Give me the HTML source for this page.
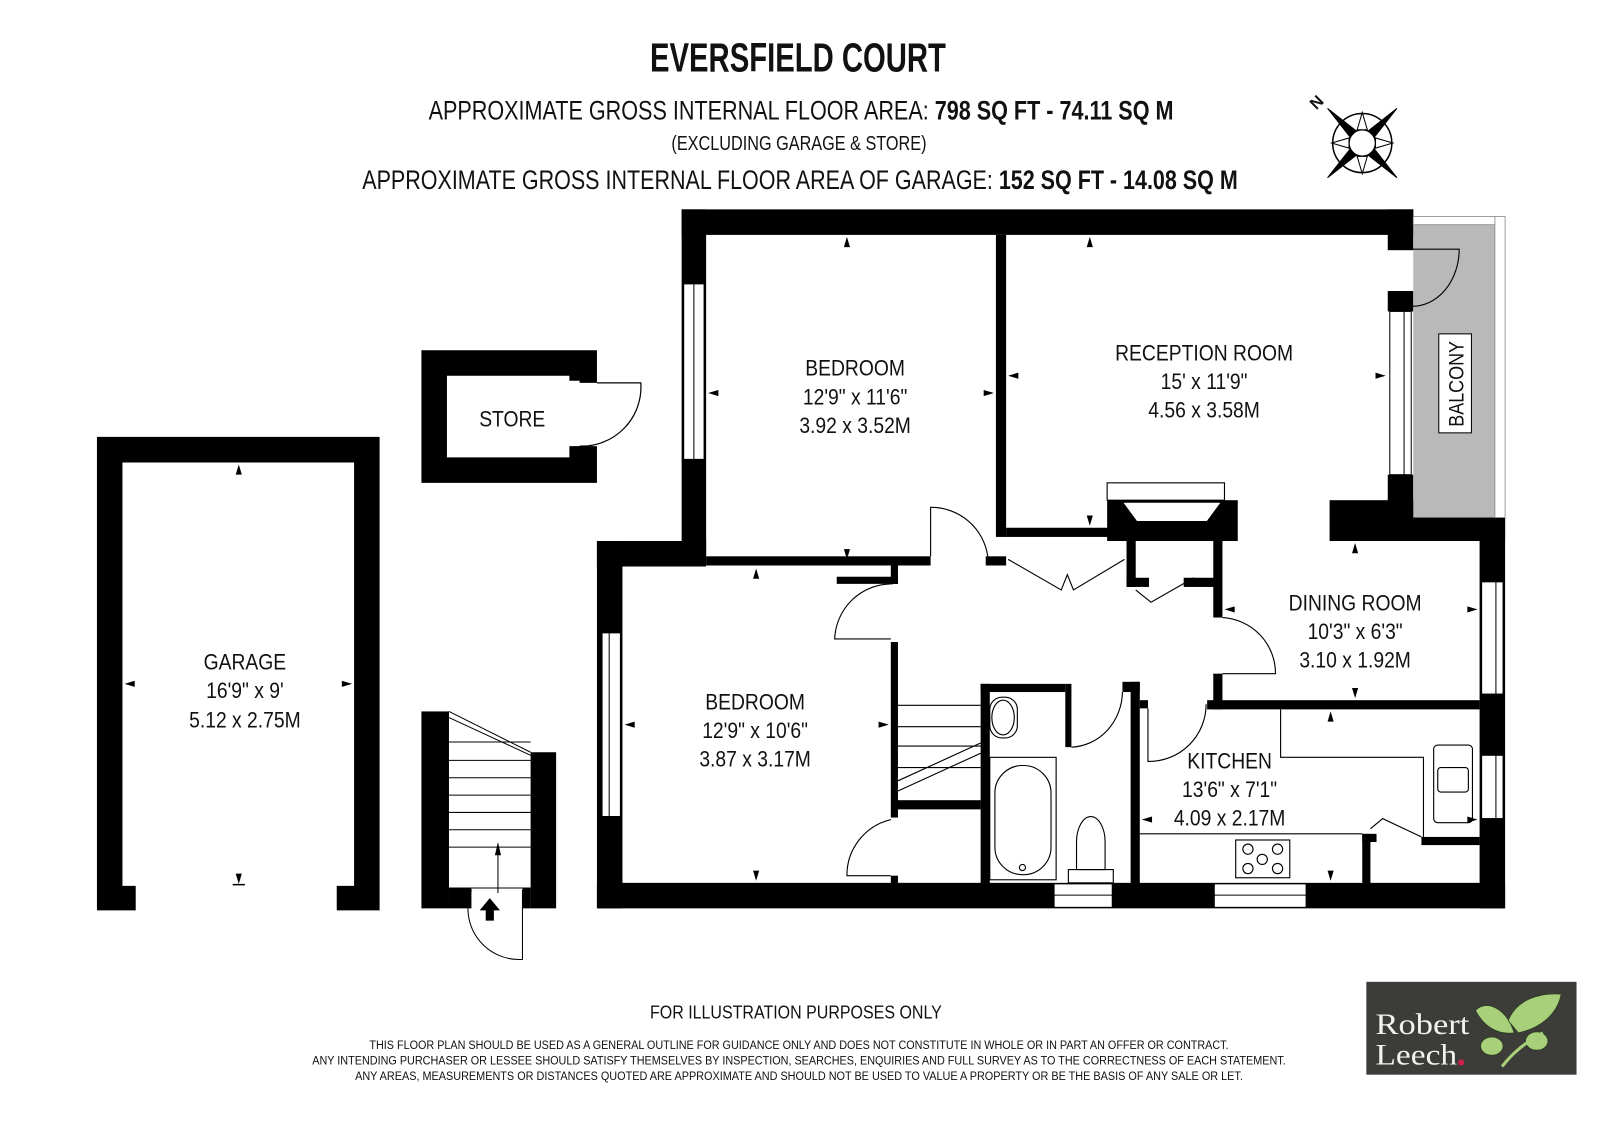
<!DOCTYPE html>
<html><head><meta charset="utf-8"><style>
html,body{margin:0;padding:0;background:#fff;}
svg{display:block;}
text{font-family:"Liberation Sans Narrow","Liberation Sans",sans-serif;fill:#111;}
</style></head><body>
<svg width="1600" height="1131" viewBox="0 0 1568 1108" xmlns="http://www.w3.org/2000/svg">
<!-- Header -->
<text x="782" y="70" text-anchor="middle" font-size="40" font-weight="bold" textLength="290" lengthAdjust="spacingAndGlyphs">EVERSFIELD COURT</text>
<text x="420" y="117" font-size="26" textLength="730" lengthAdjust="spacingAndGlyphs">APPROXIMATE GROSS INTERNAL FLOOR AREA:  <tspan font-weight="bold">798 SQ FT  -  74.11 SQ M</tspan></text>
<text x="783" y="147" text-anchor="middle" font-size="20" textLength="250" lengthAdjust="spacingAndGlyphs">(EXCLUDING GARAGE &amp; STORE)</text>
<text x="355" y="185" font-size="26" textLength="858" lengthAdjust="spacingAndGlyphs">APPROXIMATE GROSS INTERNAL FLOOR AREA OF GARAGE:  <tspan font-weight="bold">152 SQ FT  -  14.08 SQ M</tspan></text>
<!-- Compass -->
<g transform="translate(1335,140)">
<circle r="29" fill="none" stroke="#000" stroke-width="1.5"/>
<circle r="13" fill="#fff" stroke="#000" stroke-width="1.5"/>
<g fill="#000" stroke="#000" stroke-width="1">
<polygon points="-34,-34 -6,-12 -12,-6"/><polygon points="34,34 6,12 12,6"/>
<polygon points="34,-34 6,-12 12,-6"/><polygon points="-34,34 -6,12 -12,6"/>
<polygon points="0,-30 -5,-13 5,-13" fill="#fff"/><polygon points="0,30 -5,13 5,13" fill="#fff"/>
<polygon points="-30,0 -13,-5 -13,5" fill="#fff"/><polygon points="30,0 13,-5 13,5" fill="#fff"/>
</g>
<text x="-45" y="-32" font-size="16" font-weight="bold" transform="rotate(-45 -45 -32)">N</text>
</g>

<!-- Garage -->
<path d="M95,428 H372 V892 H330 V868 H347 V453 H120 V868 H133 V892 H95 Z" fill="#000"/>
<g transform="translate(240,0) scale(0.86,1)" font-size="22" text-anchor="middle">
<text x="0" y="656">GARAGE</text>
<text x="0" y="684">16'9" x 9'</text>
<text x="0" y="713">5.12 x 2.75M</text>
</g>

<!-- Store -->
<path d="M413,343 H585 V375 H568 V373 H558 V368 H438 V448 H558 V437 H585 V473 H413 Z" fill="#000"/>
<path d="M585,375 H628 A58,58 0 0 1 568,437" fill="none" stroke="#000" stroke-width="1.2"/>
<text x="0" y="418" text-anchor="middle" font-size="22" transform="translate(502,0) scale(0.86,1)">STORE</text>

<!-- External stairs -->
<rect x="413" y="697" width="27" height="193" fill="#000"/>
<rect x="520" y="737" width="25" height="153" fill="#000"/>
<rect x="440" y="870" width="22" height="20" fill="#000"/>
<rect x="512" y="870" width="8" height="20" fill="#000"/>
<g stroke="#000" stroke-width="1" fill="none">
<line x1="440" y1="697" x2="520" y2="737"/><line x1="440" y1="703" x2="520" y2="740"/>
<line x1="440" y1="727" x2="520" y2="727"/><line x1="440" y1="745" x2="520" y2="745"/>
<line x1="440" y1="762" x2="520" y2="762"/><line x1="440" y1="779" x2="520" y2="779"/>
<line x1="440" y1="796" x2="520" y2="796"/><line x1="440" y1="813" x2="520" y2="813"/>
<line x1="440" y1="830" x2="520" y2="830"/><line x1="440" y1="870" x2="520" y2="870"/>
<line x1="488" y1="830" x2="488" y2="875"/>
<path d="M462,872 A50,50 0 0 0 512,940 V872"/>
</g>
<polygon points="488,825 485,838 491,838" fill="#000"/>
<polygon points="480,880 470,892 476,892 476,902 484,902 484,892 490,892" fill="#000"/>

<!-- Main building outer walls -->
<g fill="#000">
<rect x="668" y="205" width="717" height="25"/>
<rect x="668" y="205" width="24" height="345"/>
<rect x="585" y="530" width="107" height="25"/>
<rect x="585" y="530" width="25" height="360"/>
<rect x="585" y="865" width="890" height="25"/>
<rect x="1360" y="205" width="25" height="40"/>
<rect x="1360" y="285" width="25" height="20"/>
<rect x="1360" y="465" width="25" height="42"/>
<rect x="1303" y="490" width="172" height="40"/>
<rect x="1450" y="505" width="25" height="385"/>
<rect x="976" y="230" width="10" height="296"/>
<rect x="692" y="545" width="220" height="9"/>
<rect x="966" y="545" width="20" height="9"/>
<rect x="986" y="517" width="100" height="9"/>
<rect x="1085" y="490" width="128" height="40"/>
<rect x="1104" y="530" width="9" height="45"/>
<rect x="1104" y="566" width="22" height="9"/>
<rect x="1160" y="566" width="30" height="9"/>
<rect x="1189" y="530" width="9" height="75"/>
<rect x="1189" y="660" width="9" height="35"/>
<rect x="1183" y="686" width="267" height="9"/>
<rect x="873" y="554" width="7" height="18"/>
<rect x="820" y="565" width="60" height="7"/>
<rect x="873" y="629" width="7" height="172"/>
<rect x="873" y="858" width="7" height="10"/>
<rect x="879" y="784" width="82" height="9"/>
<rect x="961" y="670" width="9" height="197"/>
<rect x="961" y="670" width="83" height="8"/>
<rect x="1044" y="670" width="6" height="62"/>
<rect x="1100" y="668" width="17" height="10"/>
<rect x="1108" y="668" width="9" height="199"/>
<rect x="1117" y="686" width="8" height="8"/>
<rect x="1335" y="817" width="8" height="50"/>
<rect x="1335" y="817" width="14" height="8"/>
<rect x="1393" y="820" width="57" height="8"/>
</g>
<!-- windows -->
<g fill="#fff" stroke="#000" stroke-width="1">
<rect x="670" y="278" width="20" height="172"/><line x1="680" y1="278" x2="680" y2="450"/>
<rect x="590" y="620" width="18" height="180"/><line x1="597" y1="620" x2="597" y2="800"/>
<rect x="1362" y="305" width="21" height="160"/><line x1="1376" y1="305" x2="1376" y2="465"/>
<rect x="1452" y="570" width="21" height="110"/><line x1="1466" y1="570" x2="1466" y2="680"/>
<rect x="1452" y="740" width="21" height="62"/><line x1="1466" y1="740" x2="1466" y2="802"/>
<rect x="1033" y="866" width="57" height="23"/><line x1="1033" y1="877" x2="1090" y2="877"/>
<rect x="1190" y="866" width="90" height="23"/><line x1="1190" y1="877" x2="1280" y2="877"/>
</g>
<!-- balcony -->
<rect x="1385" y="220" width="80" height="287" fill="#b9b9b9"/>
<rect x="1385" y="212" width="80" height="8" fill="#fff" stroke="#888" stroke-width="0.8"/>
<rect x="1465" y="212" width="10" height="295" fill="#fff" stroke="#888" stroke-width="0.8"/>
<rect x="1410" y="327" width="32" height="97" fill="#fff" stroke="#000" stroke-width="1"/>
<text x="0" y="0" font-size="21" text-anchor="middle" textLength="84" lengthAdjust="spacingAndGlyphs" transform="translate(1434,376) rotate(-90)">BALCONY</text>
<!-- doors & fixtures -->
<g fill="none" stroke="#000" stroke-width="1.1">
<path d="M1383,244 H1430 A46,56 0 0 1 1383,300"/>
<path d="M912,545 V497 A56,56 0 0 1 968,545"/>
<path d="M873,572 H875 A56,56 0 0 0 818,626 H873"/>
<path d="M873,858 H830 A56,56 0 0 1 873,803"/>
<path d="M988,548 L1040,578 L1046,563 L1052,578 L1102,548"/>
<path d="M1113,578 L1128,590 L1170,566"/>
<path d="M1198,605 A55,55 0 0 1 1250,660 H1198"/>
<path d="M1050,732 A52,55 0 0 0 1100,678"/>
<path d="M1125,694 V746 A56,56 0 0 0 1182,690"/>
<path d="M1343,812 L1355,802 L1393,820"/>
<rect x="1085" y="473" width="115" height="17"/>
<polygon points="1100,492 1197,492 1183,511 1114,511" fill="#fff"/>
<line x1="880" y1="691" x2="961" y2="691"/><line x1="880" y1="712" x2="961" y2="712"/>
<line x1="880" y1="731" x2="961" y2="731"/><line x1="880" y1="752" x2="961" y2="752"/>
<line x1="880" y1="765" x2="961" y2="728"/><line x1="880" y1="775" x2="961" y2="738"/>
<rect x="970" y="683" width="27" height="40" rx="12"/>
<ellipse cx="983" cy="703" rx="11" ry="17"/>
<rect x="970" y="742" width="65" height="120"/>
<rect x="975" y="750" width="55" height="107" rx="27"/>
<circle cx="1002" cy="850" r="3"/>
<rect x="1047" y="852" width="44" height="13"/>
<path d="M1055,852 V825 A14,25 0 0 1 1083,825 V852 Z"/>
<path d="M1255,695 V742 H1395 V820"/>
<line x1="1117" y1="817" x2="1335" y2="817"/>
<rect x="1211" y="823" width="53" height="37"/>
<circle cx="1223" cy="832" r="5"/><circle cx="1252" cy="832" r="5"/>
<circle cx="1223" cy="851" r="5"/><circle cx="1252" cy="851" r="5"/><circle cx="1237" cy="842" r="5"/>
<rect x="1405" y="730" width="38" height="76" rx="4"/>
<rect x="1409" y="752" width="30" height="24" rx="3"/>
</g>
<!-- dimension markers -->
<g fill="#000">
<polygon points="830,232 827,242 833,242"/><polygon points="830,548 827,538 833,538"/>
<polygon points="694,385 704,382 704,388"/><polygon points="974,385 964,382 964,388"/>
<polygon points="1068,232 1065,242 1071,242"/><polygon points="1068,515 1065,505 1071,505"/>
<polygon points="988,368 998,365 998,371"/><polygon points="1358,368 1348,365 1348,371"/>
<polygon points="1328,532 1325,542 1331,542"/><polygon points="1328,684 1325,674 1331,674"/>
<polygon points="1200,597 1210,594 1210,600"/><polygon points="1448,597 1438,594 1438,600"/>
<polygon points="741,557 738,567 744,567"/><polygon points="741,863 738,853 744,853"/>
<polygon points="612,710 622,707 622,713"/><polygon points="871,710 861,707 861,713"/>
<polygon points="1304,697 1301,707 1307,707"/><polygon points="1304,863 1301,853 1307,853"/>
<polygon points="1119,803 1129,800 1129,806"/><polygon points="1448,803 1438,800 1438,806"/>
<polygon points="234,455 231,465 237,465"/><polygon points="234,866 231,856 237,856"/>
<rect x="228" y="866" width="12" height="1.5"/>
<polygon points="122,670 132,667 132,673"/><polygon points="345,670 335,667 335,673"/>
</g>
<!-- room labels -->
<g font-size="22" text-anchor="middle">
<g transform="translate(838,0) scale(0.86,1)"><text x="0" y="368">BEDROOM</text><text x="0" y="396">12'9" x 11'6"</text><text x="0" y="424">3.92 x 3.52M</text></g>
<g transform="translate(1180,0) scale(0.86,1)"><text x="0" y="353">RECEPTION ROOM</text><text x="0" y="381">15' x 11'9"</text><text x="0" y="409">4.56 x 3.58M</text></g>
<g transform="translate(1328,0) scale(0.86,1)"><text x="0" y="598">DINING ROOM</text><text x="0" y="626">10'3" x 6'3"</text><text x="0" y="654">3.10 x 1.92M</text></g>
<g transform="translate(740,0) scale(0.86,1)"><text x="0" y="695">BEDROOM</text><text x="0" y="723">12'9" x 10'6"</text><text x="0" y="751">3.87 x 3.17M</text></g>
<g transform="translate(1205,0) scale(0.86,1)"><text x="0" y="753">KITCHEN</text><text x="0" y="781">13'6" x 7'1"</text><text x="0" y="809">4.09 x 2.17M</text></g>
</g>
<!-- footer -->
<text x="780" y="998" text-anchor="middle" font-size="18" textLength="286" lengthAdjust="spacingAndGlyphs">FOR ILLUSTRATION PURPOSES ONLY</text>
<g font-size="11.5" text-anchor="middle">
<text x="783" y="1028" textLength="842" lengthAdjust="spacingAndGlyphs">THIS FLOOR PLAN SHOULD BE USED AS A GENERAL OUTLINE FOR GUIDANCE ONLY AND DOES NOT CONSTITUTE IN WHOLE OR IN PART AN OFFER OR CONTRACT.</text>
<text x="783" y="1043" textLength="954" lengthAdjust="spacingAndGlyphs">ANY INTENDING PURCHASER OR LESSEE SHOULD SATISFY THEMSELVES BY INSPECTION, SEARCHES, ENQUIRIES AND FULL SURVEY AS TO THE CORRECTNESS OF EACH STATEMENT.</text>
<text x="783" y="1058" textLength="870" lengthAdjust="spacingAndGlyphs">ANY AREAS, MEASUREMENTS OR DISTANCES QUOTED ARE APPROXIMATE AND SHOULD NOT BE USED TO VALUE A PROPERTY OR BE THE BASIS OF ANY SALE OR LET.</text>
</g>
<!-- logo -->
<rect x="1339" y="962" width="206" height="91" fill="#3c3d39"/>
<text x="1348" y="1013" font-size="29" textLength="92" lengthAdjust="spacingAndGlyphs" style="fill:#f2f2ee;font-family:'Liberation Serif',serif">Robert</text>
<text x="1348" y="1043" font-size="29" textLength="80" lengthAdjust="spacingAndGlyphs" style="fill:#f2f2ee;font-family:'Liberation Serif',serif">Leech</text>
<circle cx="1432" cy="1041" r="3" fill="#d0204a"/>
<g fill="#a8d07a" stroke="#2a3a20" stroke-width="0.8">
<path d="M1446,990 C1455,980 1475,985 1484,1012 C1470,1014 1455,1008 1446,990 Z"/>
<path d="M1478,1000 C1485,982 1505,972 1530,974 C1526,995 1508,1008 1488,1012 Z"/>
<ellipse cx="1462" cy="1025" rx="11" ry="9"/>
<ellipse cx="1506" cy="1020" rx="11" ry="9"/>
<path d="M1472,1045 C1482,1032 1494,1022 1512,1012" fill="none" stroke="#a8d07a" stroke-width="3"/>
</g>
</svg>
</body></html>
